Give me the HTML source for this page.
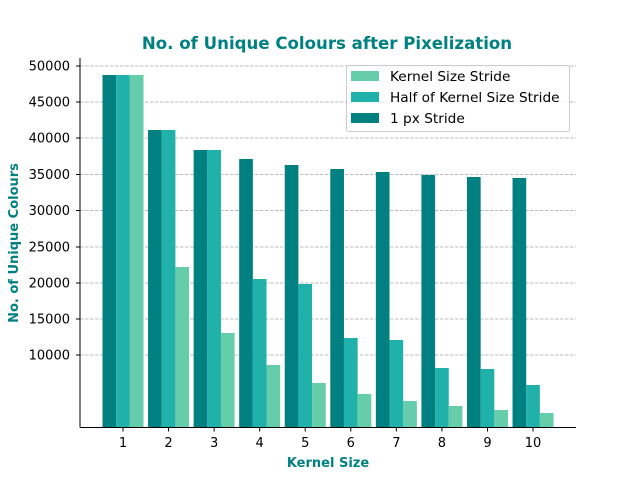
<!DOCTYPE html>
<html><head><style>body{margin:0;background:#fff}svg{display:block}text{font-family:"DejaVu Sans","Liberation Sans",sans-serif}</style></head><body>
<svg width="640" height="480" xmlns="http://www.w3.org/2000/svg">
<rect width="640" height="480" fill="#fff"/>
<g stroke="#a8a8a8" stroke-width="0.8" stroke-dasharray="3.5,1.5">
<line x1="80" x2="576" y1="66" y2="66"/><line x1="80" x2="576" y1="102" y2="102"/><line x1="80" x2="576" y1="138" y2="138"/><line x1="80" x2="576" y1="174.5" y2="174.5"/><line x1="80" x2="576" y1="210.5" y2="210.5"/><line x1="80" x2="576" y1="247" y2="247"/><line x1="80" x2="576" y1="283" y2="283"/><line x1="80" x2="576" y1="319" y2="319"/><line x1="80" x2="576" y1="355" y2="355"/>
</g>
<g fill="#008080">
<rect x="102.5" y="75" width="13.67" height="352.5"/>
<rect x="148.06" y="130" width="13.67" height="297.5"/>
<rect x="193.62" y="150" width="13.67" height="277.5"/>
<rect x="239.18" y="159" width="13.67" height="268.5"/>
<rect x="284.74" y="165" width="13.67" height="262.5"/>
<rect x="330.3" y="169" width="13.67" height="258.5"/>
<rect x="375.86" y="172" width="13.67" height="255.5"/>
<rect x="421.42" y="175" width="13.67" height="252.5"/>
<rect x="466.98" y="177" width="13.67" height="250.5"/>
<rect x="512.54" y="178" width="13.67" height="249.5"/>
</g>
<g fill="#20b2aa">
<rect x="116.17" y="75" width="13.67" height="352.5"/>
<rect x="161.73" y="130" width="13.67" height="297.5"/>
<rect x="207.29" y="150" width="13.67" height="277.5"/>
<rect x="252.85" y="279" width="13.67" height="148.5"/>
<rect x="298.41" y="284" width="13.67" height="143.5"/>
<rect x="343.97" y="338" width="13.67" height="89.5"/>
<rect x="389.53" y="340" width="13.67" height="87.5"/>
<rect x="435.09" y="368" width="13.67" height="59.5"/>
<rect x="480.65" y="369" width="13.67" height="58.5"/>
<rect x="526.21" y="385" width="13.67" height="42.5"/>
</g>
<g fill="#66cdaa">
<rect x="129.84" y="75" width="13.67" height="352.5"/>
<rect x="175.4" y="267" width="13.67" height="160.5"/>
<rect x="220.96" y="333" width="13.67" height="94.5"/>
<rect x="266.52" y="365" width="13.67" height="62.5"/>
<rect x="312.08" y="383" width="13.67" height="44.5"/>
<rect x="357.64" y="394" width="13.67" height="33.5"/>
<rect x="403.2" y="401" width="13.67" height="26.5"/>
<rect x="448.76" y="406" width="13.67" height="21.5"/>
<rect x="494.32" y="410" width="13.67" height="17.5"/>
<rect x="539.88" y="413" width="13.67" height="14.5"/>
</g>
<line x1="80" y1="58" x2="80" y2="427.5" stroke="#000" stroke-width="1"/>
<line x1="80" y1="427.5" x2="576" y2="427.5" stroke="#000" stroke-width="1"/>
<g font-size="13" text-anchor="end" fill="#000">
<text x="70" y="70.5">50000</text><text x="70" y="106.5">45000</text><text x="70" y="142.5">40000</text><text x="70" y="179">35000</text><text x="70" y="215">30000</text><text x="70" y="251.5">25000</text><text x="70" y="287.5">20000</text><text x="70" y="323.5">15000</text><text x="70" y="359.5">10000</text>
</g>
<g stroke="#000"><line x1="76" x2="80" y1="66" y2="66"/><line x1="76" x2="80" y1="102" y2="102"/><line x1="76" x2="80" y1="138" y2="138"/><line x1="76" x2="80" y1="174.5" y2="174.5"/><line x1="76" x2="80" y1="210.5" y2="210.5"/><line x1="76" x2="80" y1="247" y2="247"/><line x1="76" x2="80" y1="283" y2="283"/><line x1="76" x2="80" y1="319" y2="319"/><line x1="76" x2="80" y1="355" y2="355"/>
<line x1="123" x2="123" y1="427.5" y2="431.5"/><line x1="168.56" x2="168.56" y1="427.5" y2="431.5"/><line x1="214.12" x2="214.12" y1="427.5" y2="431.5"/><line x1="259.68" x2="259.68" y1="427.5" y2="431.5"/><line x1="305.24" x2="305.24" y1="427.5" y2="431.5"/><line x1="350.8" x2="350.8" y1="427.5" y2="431.5"/><line x1="396.36" x2="396.36" y1="427.5" y2="431.5"/><line x1="441.92" x2="441.92" y1="427.5" y2="431.5"/><line x1="487.48" x2="487.48" y1="427.5" y2="431.5"/><line x1="533.04" x2="533.04" y1="427.5" y2="431.5"/></g>
<g font-size="13" text-anchor="middle">
<text x="123" y="447">1</text><text x="168.56" y="447">2</text><text x="214.12" y="447">3</text><text x="259.68" y="447">4</text><text x="305.24" y="447">5</text><text x="350.8" y="447">6</text><text x="396.36" y="447">7</text><text x="441.92" y="447">8</text><text x="487.48" y="447">9</text><text x="533.04" y="447">10</text>
</g>
<text x="327" y="49" font-size="16.6" font-weight="bold" fill="#008080" text-anchor="middle">No. of Unique Colours after Pixelization</text>
<text x="328" y="467" font-size="13" font-weight="bold" fill="#008080" text-anchor="middle">Kernel Size</text>
<text transform="translate(18,243) rotate(-90)" font-size="13" font-weight="bold" fill="#008080" text-anchor="middle">No. of Unique Colours</text>
<rect x="346.5" y="65.5" width="223" height="66" rx="2" fill="#fff" fill-opacity="0.8" stroke="#ccc"/>
<rect x="351" y="71" width="28" height="10" fill="#66cdaa"/><text x="390" y="81" font-size="13.7">Kernel Size Stride</text>
<rect x="351" y="92" width="28" height="10" fill="#20b2aa"/><text x="390" y="102" font-size="13.7">Half of Kernel Size Stride</text>
<rect x="351" y="113" width="28" height="10" fill="#008080"/><text x="390" y="123" font-size="13.7">1 px Stride</text>
</svg>
</body></html>
